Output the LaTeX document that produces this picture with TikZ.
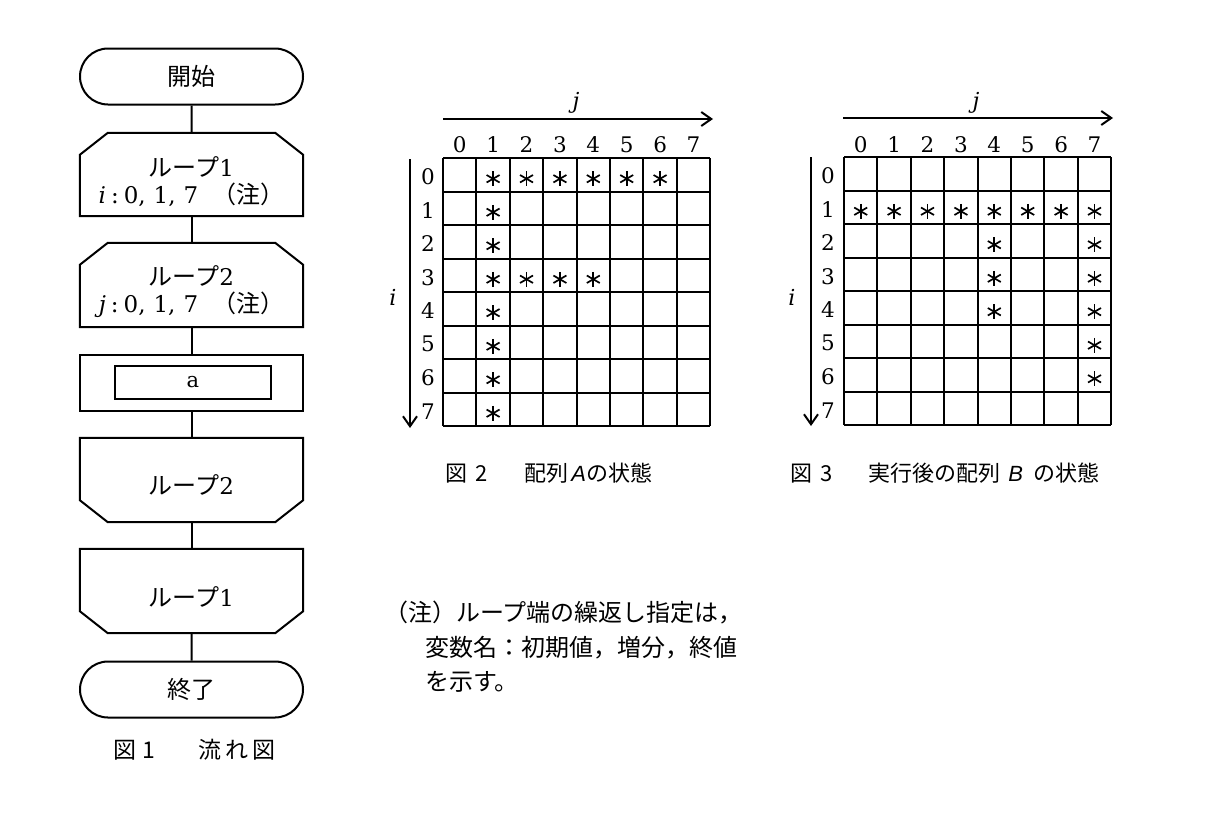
\documentclass[tikz,border=0pt]{standalone}
\usepackage{fontspec}
\newfontfamily\jp{Noto Sans CJK JP}
\newfontfamily\lsans{Liberation Sans}
\newfontfamily\dser{DejaVu Serif}
\usetikzlibrary{arrows.meta,shapes.misc}
\tikzset{
  fl/.style={line width=2pt, line join=miter},
  fbox/.style={minimum width=223pt, minimum height=84pt, inner sep=0pt, draw=none},
  term/.style={rounded rectangle, draw, line width=2pt, minimum width=223pt, minimum height=56pt, inner sep=0pt, font=\jp\fontsize{24}{24}\selectfont},
  ft/.style={font=\fontsize{23}{27}\selectfont, align=center, inner sep=0pt},
  gl/.style={line width=2pt},
  lab/.style={font=\dser\fontsize{21.5}{21.5}\selectfont, inner sep=0pt},
  star/.style={minimum size=17pt, inner sep=0pt, path picture={
     \foreach \a in {90,30,150}{
       \draw[line width=1.7pt] (path picture bounding box.center) ++(\a:7.5pt) -- ++(\a+180:15pt);}}},
  axlab/.style={font=\dser\fontsize{22}{22}\selectfont\itshape, inner sep=0pt},
  axis/.style={line width=2pt, -{Straight Barb[length=10pt,width=14pt]}},
  captext/.style={font=\jp\fontsize{22}{22}\selectfont, inner sep=0pt, anchor=west},
  notetext/.style={font=\jp\fontsize{24}{24}\selectfont, inner sep=0pt, anchor=west},
}
\newcommand{\fldig}[1]{{\dser\itshape #1}\kern5pt{\dser :}\kern5pt{\dser 0,\kern8pt 1,\kern8pt 7}\kern14pt{\jp\fontsize{24}{24}\selectfont （注）}}
\newcommand{\flloop}[1]{{\jp\fontsize{24}{24}\selectfont ループ}{\dser #1}}
\begin{document}
\begin{tikzpicture}[x=1pt,y=-1pt]
\useasboundingbox (0,0) rectangle (1230,830);
\fill[white] (0,0) rectangle (1230,830);

% ---------- flowchart ----------
\node[term] (start) at (191.5,76.5) {開始};
\node[fbox, minimum height=83pt] (L1s) at (191.5,174.5)
  [label={[ft,yshift=-7pt]center:{\flloop{1}\\\fldig{i}}}] {};
\node[fbox] (L2s) at (191.5,285)
  [label={[ft,yshift=-7pt]center:{\flloop{2}\\\fldig{j}}}] {};
\node[draw, fl, minimum width=223pt, minimum height=56pt, inner sep=0pt] (proc) at (191.5,383) {};
\node[draw, line width=2.8pt, minimum width=156pt, minimum height=33pt, inner sep=0pt,
      font=\dser\fontsize{21}{21}\selectfont] (a) at (193,382.5) {a};
\node[fbox] (L2e) at (191.5,480)
  [label={[ft,yshift=-5pt]center:{\flloop{2}}}] {};
\node[fbox] (L1e) at (191.5,591)
  [label={[ft,yshift=-6pt]center:{\flloop{1}}}] {};
\node[term] (end) at (191.5,689.5) {終了};

% loop outlines
\foreach \n in {L1s,L2s}{
  \draw[fl] (\n.south west) -- ([yshift=-22pt]\n.north west) -- ([xshift=28pt]\n.north west)
    -- ([xshift=-28pt]\n.north east) -- ([yshift=-22pt]\n.north east) -- (\n.south east) -- cycle;
}
\foreach \n in {L2e,L1e}{
  \draw[fl] (\n.north west) -- ([yshift=22pt]\n.south west) -- ([xshift=28pt]\n.south west)
    -- ([xshift=-28pt]\n.south east) -- ([yshift=22pt]\n.south east) -- (\n.north east) -- cycle;
}

% connectors
\draw[fl] (start) -- (L1s);
\draw[fl] (L1s) -- (L2s);
\draw[fl] (L2s) -- (proc);
\draw[fl] (proc) -- (L2e);
\draw[fl] (L2e) -- (L1e);
\draw[fl] (L1e) -- (end);

\node[captext, font=\jp\fontsize{23}{23}\selectfont] (cap1) at (113,750) {図\kern6pt1\hspace{44pt}流\kern4pt れ\kern4pt 図};

% ---------- array A ----------
\def\cw{33.4}
\begin{scope}[shift={(443,158)}]
  \foreach \k in {0,...,8}{
    \draw[gl] (\k*\cw,0) -- (\k*\cw,8*33.5);
    \draw[gl] (0,\k*33.5) -- (8*\cw,\k*33.5);
  }
  \foreach \k in {0,...,7}{
    \node[lab] (Ac\k) at ({(\k+0.5)*\cw},-13) {\k};
    \node[lab] (Ar\k) at (-15,{(\k+0.5)*33.5+2}) {\k};
  }
  \foreach \r/\c in {0/1,0/2,0/3,0/4,0/5,0/6,1/1,2/1,3/1,3/2,3/3,3/4,4/1,5/1,6/1,7/1}{
    \node[star] (As\r\c) at ({(\c+0.5)*\cw},{(\r+0.5)*33.5+4}) {};
  }
\end{scope}
\coordinate (Aj0) at (443,119);
\coordinate (Aj1) at (713,119);
\draw[axis] (Aj0) -- (Aj1);
\node[axlab] (Aj) at (576,103) {j};
\coordinate (Ai0) at (410,159);
\coordinate (Ai1) at (410,428);
\draw[axis] (Ai0) -- (Ai1);
\node[axlab] (Ai) at (393,297) {i};
\node[captext] (cap2) at (445,473) {図\kern8pt 2\hspace{37pt}配列\kern3pt{\lsans\itshape A}の状態};

% ---------- array B ----------
\begin{scope}[shift={(844,157)}]
  \foreach \k in {0,...,8}{
    \draw[gl] (\k*\cw,0) -- (\k*\cw,8*33.5);
    \draw[gl] (0,\k*33.5) -- (8*\cw,\k*33.5);
  }
  \foreach \k in {0,...,7}{
    \node[lab] (Bc\k) at ({(\k+0.5)*\cw},-12) {\k};
    \node[lab] (Br\k) at (-16,{(\k+0.5)*33.5+2}) {\k};
  }
  \foreach \r/\c in {1/0,1/1,1/2,1/3,1/4,1/5,1/6,1/7,2/4,3/4,4/4,2/7,3/7,4/7,5/7,6/7}{
    \node[star] (Bs\r\c) at ({(\c+0.5)*\cw},{(\r+0.5)*33.5+4}) {};
  }
\end{scope}
\coordinate (Bj0) at (843,118);
\coordinate (Bj1) at (1113,118);
\draw[axis] (Bj0) -- (Bj1);
\node[axlab] (Bj) at (976,103) {j};
\coordinate (Bi0) at (811,157);
\coordinate (Bi1) at (811,426);
\draw[axis] (Bi0) -- (Bi1);
\node[axlab] (Bi) at (792,297) {i};
\node[captext] (cap3) at (790,473) {図\kern8pt 3\hspace{36pt}実行後の配列\kern8pt{\lsans\itshape B}\kern10pt の状態};

% ---------- note ----------
\node[notetext] (note1) at (384,613) {（注）ループ端の繰返し指定は，};
\node[notetext] (note2) at (425,648) {変数名：初期値，増分，終値};
\node[notetext] (note3) at (425,682) {を示す。};
\end{tikzpicture}
\end{document}
